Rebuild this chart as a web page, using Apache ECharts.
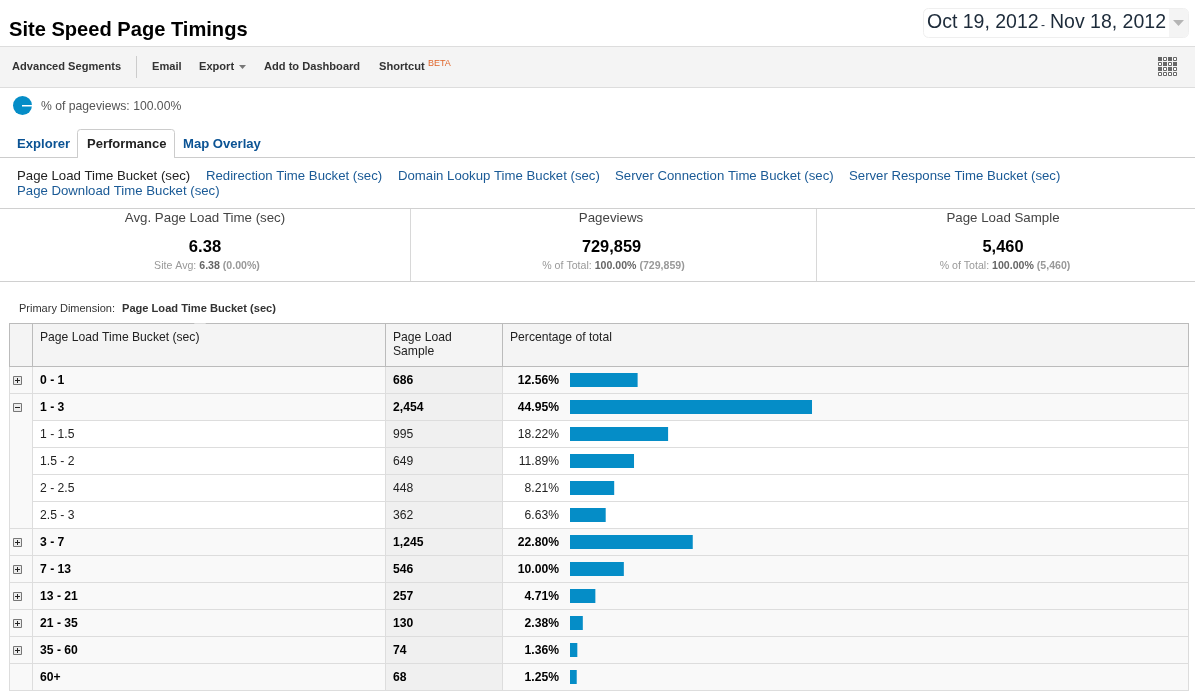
<!DOCTYPE html>
<html>
<head>
<meta charset="utf-8">
<title>Site Speed Page Timings</title>
<script src="https://cdn.jsdelivr.net/npm/echarts@6/dist/echarts.min.js"></script>
<style>
html, body { margin: 0; padding: 0; background: #fff; }
#chart { width: 1195px; height: 695px; }
</style>
</head>
<body>
<div id="chart"></div>
<script>
// table data
const buckets = ['0 - 1', '1 - 3', '1 - 1.5', '1.5 - 2', '2 - 2.5', '2.5 - 3', '3 - 7', '7 - 13', '13 - 21', '21 - 35', '35 - 60', '60+'];
const samples = ['686', '2,454', '995', '649', '448', '362', '1,245', '546', '257', '130', '74', '68'];
const percents = [12.56, 44.95, 18.22, 11.89, 8.21, 6.63, 22.80, 10.00, 4.71, 2.38, 1.36, 1.25];
const childRows = [2, 3, 4, 5];
const plusRows = [0, 6, 7, 8, 9, 10];
const minusRows = [1];

const dimensionLinks = [
    ['Redirection Time Bucket (sec)', 206, 175],
    ['Domain Lookup Time Bucket (sec)', 398, 175],
    ['Server Connection Time Bucket (sec)', 615, 175],
    ['Server Response Time Bucket (sec)', 849, 175],
    ['Page Download Time Bucket (sec)', 17, 190]
];

const FONT = '"Liberation Sans", Arial, sans-serif';
const BLUE = '#058dc7';
const LINK = '#1a5a96';
const TOP = 366.5, ROW = 27;

const gfx = [];
function rect(x, y, w, h, fill, z, extra) {
    gfx.push({type: 'rect', silent: true, z: z || 0, shape: Object.assign({x: x, y: y, width: w, height: h}, extra || {}), style: {fill: fill}});
}
function text(str, x, y, size, color, weight, align, rich) {
    gfx.push({type: 'text', silent: true, z: 5, x: x, y: y, style: {
        text: str, fill: color, rich: rich,
        font: (weight || 'normal') + ' ' + size + 'px ' + FONT,
        textAlign: align || 'left', textVerticalAlign: 'middle'
    }});
}
function poly(points, fill) {
    gfx.push({type: 'polygon', silent: true, z: 5, shape: {points: points}, style: {fill: fill}});
}

// page heading and date picker
text('Site Speed Page Timings', 9, 30, 20.1, '#000', 'bold');
rect(923.5, 8.5, 265, 29, '#fff', 1, {r: 5});
gfx[gfx.length - 1].style.stroke = '#efefef';
rect(1169, 9, 19, 28, '#f4f4f4', 2, {r: [0, 4, 4, 0]});
text('Oct 19, 2012', 927, 23, 19.5, '#1d2b3a');
text('-', 1041, 26, 12, '#1d2b3a');
text('Nov 18, 2012', 1050, 23, 19.5, '#1d2b3a');
poly([[1173, 20], [1184, 20], [1178.5, 26]], '#b5b5b5');

// toolbar
rect(0, 47, 1195, 40, '#f4f4f4');
rect(0, 46, 1195, 1, '#dddddd', 1);
rect(0, 87, 1195, 1, '#dddddd', 1);
rect(136, 56, 1, 22, '#cccccc', 1);
text('Advanced Segments', 12, 67, 11.1, '#333', 'bold');
text('Email', 152, 67, 11.1, '#333', 'bold');
text('Export', 199, 67, 11.1, '#333', 'bold');
poly([[239, 65], [246, 65], [242.5, 69]], '#777');
text('Add to Dashboard', 264, 67, 11.1, '#333', 'bold');
text('Shortcut', 379, 67, 11.1, '#333', 'bold');
text('BETA', 428, 64, 9, '#e0662b');
// view switcher icon
for (let r = 0; r < 4; r++) {
    for (let c = 0; c < 4; c++) {
        const x = 1158 + c * 5, y = 57 + r * 5;
        if (r < 3 && (r + c) % 2 === 0 || r === 1 && c === 3) {
            rect(x, y, 4, 4, '#666', 1);
        } else {
            rect(x + 0.5, y + 0.5, 3, 3, '#fff', 1);
            gfx[gfx.length - 1].style.stroke = '#666';
        }
    }
}

// segment share
gfx.push({type: 'circle', silent: true, z: 2, shape: {cx: 22.5, cy: 105.5, r: 9.5}, style: {fill: BLUE}});
rect(22, 105, 10, 1.5, '#fff', 3);
text('% of pageviews: 100.00%', 41, 107, 12.2, '#555');

// tabs
rect(0, 157, 1195, 1, '#cccccc', 1);
rect(77.5, 129.5, 97, 28, '#fff', 2, {r: [3, 3, 0, 0]});
gfx[gfx.length - 1].style.stroke = '#cccccc';
rect(78, 156, 96, 3, '#fff', 3);
text('Explorer', 17, 144, 13.1, '#0b5394', 'bold');
text('Performance', 87, 144, 13, '#222', 'bold');
text('Map Overlay', 183, 144, 13.1, '#0b5394', 'bold');

// dimension links
text('Page Load Time Bucket (sec)', 17, 176, 13.2, '#222');
dimensionLinks.forEach(l => text(l[0], l[1], l[2] + 1, 13.2, LINK));

// scorecards
rect(0, 208, 1195, 1, '#d0d0d0', 1);
rect(0, 281, 1195, 1, '#d0d0d0', 1);
rect(410, 209, 1, 72, '#d8d8d8', 1);
rect(816, 209, 1, 72, '#d8d8d8', 1);
const subRich = {
    g: {font: 'normal 10.6px ' + FONT, fill: '#999'},
    d: {font: 'bold 10.6px ' + FONT, fill: '#666'},
    h: {font: 'bold 10.6px ' + FONT, fill: '#999'}
};
text('Avg. Page Load Time (sec)', 205, 218, 13.3, '#444', 'normal', 'center');
text('6.38', 205, 247, 16.6, '#000', 'bold', 'center');
text('{g|Site Avg: }{d|6.38}{h| (0.00%)}', 207, 266, 10.6, '#999', 'normal', 'center', subRich);
text('Pageviews', 611, 218, 13.3, '#444', 'normal', 'center');
text('729,859', 611.5, 247, 16.4, '#000', 'bold', 'center');
text('{g|% of Total: }{d|100.00%}{h| (729,859)}', 613.5, 266, 10.6, '#999', 'normal', 'center', subRich);
text('Page Load Sample', 1003, 218, 13.3, '#444', 'normal', 'center');
text('5,460', 1003, 247, 16.4, '#000', 'bold', 'center');
text('{g|% of Total: }{d|100.00%}{h| (5,460)}', 1005, 266, 10.6, '#999', 'normal', 'center', subRich);

// table header
text('Primary Dimension:', 19, 309, 11, '#333');
text('Page Load Time Bucket (sec)', 122, 309, 11.1, '#333', 'bold');
rect(9, 323, 1180, 44, '#f4f4f4');
rect(9, 323, 1180, 1, '#bbbbbb', 1);
rect(9, 366, 1180, 1, '#bbbbbb', 1);
[9, 32, 385, 502, 1188].forEach(x => rect(x, 323, 1, 44, '#bbbbbb', 1));
poly([[194, 323.5], [200, 318], [206, 323.5]], '#fff');
text('Page Load Time Bucket (sec)', 40, 338, 12.15, '#222');
text('Page Load', 393, 338, 12.15, '#222');
text('Sample', 393, 352, 12.15, '#222');
text('Percentage of total', 510, 338, 12.15, '#222');

// table body
buckets.forEach((b, i) => {
    const y = 367 + i * ROW;
    const child = childRows.indexOf(i) >= 0;
    rect(9, y, 1180, ROW, child ? '#fff' : '#f9f9f9');
    if (child) rect(9, y, 24, ROW, '#f9f9f9');
    rect(386, y, 116, ROW, '#f0f0f0');
    rect(child || i === 1 ? 33 : 9, y + 26, 1156 + (child || i === 1 ? 0 : 24), 1, '#dddddd', 1);
    if (i === 5) rect(9, y + 26, 24, 1, '#dddddd', 1);
    const icon = plusRows.indexOf(i) >= 0 || minusRows.indexOf(i) >= 0;
    if (icon) {
        rect(13.5, y + 9.5, 8, 8, '#ececec', 2);
        gfx[gfx.length - 1].style.stroke = '#777';
        rect(15, y + 13, 5, 1, '#222', 3);
        if (plusRows.indexOf(i) >= 0) rect(17, y + 11, 1, 5, '#222', 3);
    }
});
[9, 32, 385, 502, 1188].forEach(x => rect(x, 367, 1, ROW * 12 - 1, '#dddddd', 1));

function rowLabel(list) {
    return (v, i) => (childRows.indexOf(i) >= 0 ? '{n|' : '{b|') + list(v, i) + '}';
}
const labelRich = {
    n: {fontFamily: FONT, fontSize: 12.15, fontWeight: 'normal', color: '#222', padding: [2, 0, 0, 0]},
    b: {fontFamily: FONT, fontSize: 12.15, fontWeight: 'bold', color: '#000', padding: [2, 0, 0, 0]}
};
function tableAxis(data, margin, align, fmt) {
    return {
        type: 'category', inverse: true, data: data, position: 'left',
        axisLine: {show: false}, axisTick: {show: false}, splitLine: {show: false},
        axisLabel: {interval: 0, margin: margin, align: align, hideOverlap: false, rich: labelRich, formatter: rowLabel(fmt)}
    };
}

const chart = echarts.init(document.getElementById('chart'), null, {renderer: 'canvas'});
chart.setOption({
    animation: false,
    backgroundColor: '#fff',
    graphic: {elements: gfx},
    grid: {left: 570, top: TOP, width: 538.4, height: ROW * 12, containLabel: false},
    xAxis: {type: 'value', min: 0, max: 100, show: false},
    yAxis: [
        tableAxis(buckets, 530, 'left', v => v),
        tableAxis(samples, 177, 'left', v => v),
        tableAxis(percents, 11, 'right', v => Number(v).toFixed(2) + '%')
    ],
    series: [{
        type: 'bar',
        yAxisIndex: 0,
        data: percents,
        barWidth: 14,
        z: 3,
        itemStyle: {color: BLUE}
    }]
});
</script>
</body>
</html>
